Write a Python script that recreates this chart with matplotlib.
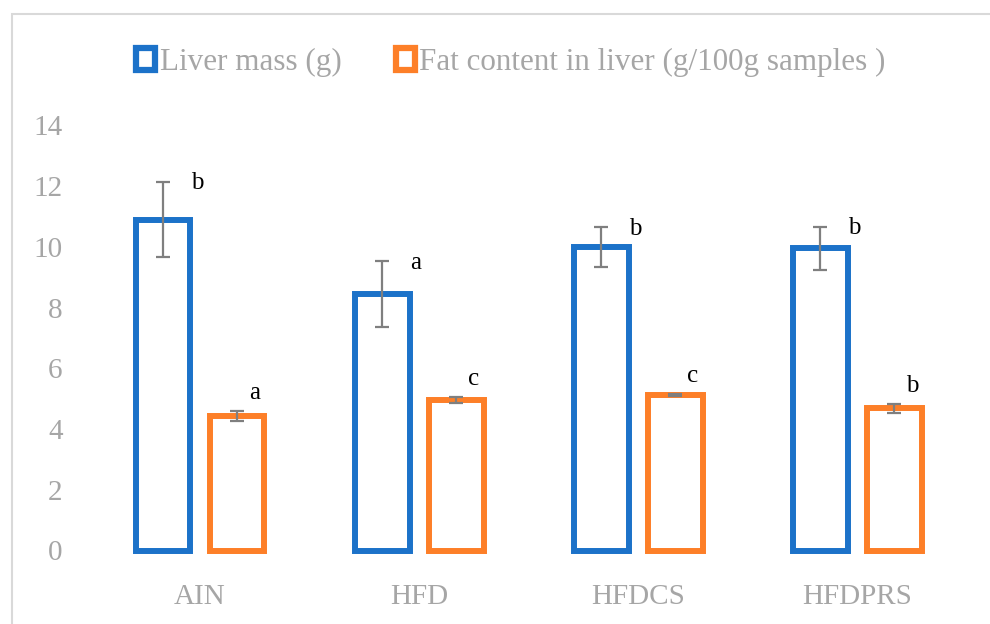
#!/usr/bin/env python3
"""Liver mass and liver fat content by diet group."""

import matplotlib

matplotlib.use("Agg")
import matplotlib.pyplot as plt
import numpy as np
from matplotlib.patches import Rectangle

groups = ["AIN", "HFD", "HFDCS", "HFDPRS"]
liver_mass = [10.90, 8.44, 9.99, 9.95]
liver_mass_err = [1.24, 1.09, 0.66, 0.71]
liver_fat = [4.43, 4.96, 5.12, 4.68]
liver_fat_err = [0.16, 0.10, 0.03, 0.14]
mass_letters = ["b", "a", "b", "b"]
fat_letters = ["a", "c", "c", "b"]

BLUE = "#1C72C9"
ORANGE = "#FD7F28"
GRAY_TXT = "#A6A6A6"
ERR = "#7F7F7F"

plt.rcParams["font.family"] = ["Liberation Serif", "DejaVu Serif"]

fig = plt.figure(figsize=(9.9, 6.24), dpi=100)
ax = fig.add_axes([90.5 / 990, 1 - 550.5 / 624, 876.5 / 990, 425 / 624])

x = np.arange(len(groups))
off = 0.169
width = 0.25
lw = 4.3

ax.bar(x - off, liver_mass, width, facecolor="white", edgecolor=BLUE, linewidth=lw, clip_on=False)
ax.bar(x + off, liver_fat, width, facecolor="white", edgecolor=ORANGE, linewidth=lw, clip_on=False)
err_kw = dict(fmt="none", ecolor=ERR, elinewidth=1.6, capsize=4.7, capthick=1.6, zorder=3)
ax.errorbar(x - off, liver_mass, yerr=liver_mass_err, **err_kw)
ax.errorbar(x + off, liver_fat, yerr=liver_fat_err, **err_kw)

for i in range(len(groups)):
    ax.text(x[i] - off + 0.155, liver_mass[i] + liver_mass_err[i] - 0.05, mass_letters[i],
            fontsize=18, ha="center", va="center", color="black")
    ax.text(x[i] + off + 0.08, liver_fat[i] + liver_fat_err[i] + 0.6, fat_letters[i],
            fontsize=18, ha="center", va="center", color="black")

ax.set_xlim(-0.5, len(groups) - 0.5)
ax.set_ylim(0, 14)
ax.set_yticks(range(0, 15, 2))
ax.set_xticks(x, groups)
ax.tick_params(axis="both", length=0, labelsize=21, colors=GRAY_TXT)
ax.tick_params(axis="x", pad=24)
ax.tick_params(axis="y", pad=20)
for s in ax.spines.values():
    s.set_visible(False)

handles = [
    Rectangle((0, 0), 1, 1, facecolor="white", edgecolor=BLUE, linewidth=4.5),
    Rectangle((0, 0), 1, 1, facecolor="white", edgecolor=ORANGE, linewidth=4.5),
]
leg = fig.legend(
    handles,
    ["Liver mass (g)", "Fat content in liver (g/100g samples )"],
    loc="center",
    bbox_to_anchor=(511 / 990, 1 - 62 / 624),
    ncol=2,
    frameon=False,
    fontsize=22.4,
    handlelength=0.6,
    handleheight=0.7,
    handletextpad=0.15,
    columnspacing=1.75,
)
for t in leg.get_texts():
    t.set_color(GRAY_TXT)

# light chart-area border (only top and left edges visible in the crop)
fig.add_artist(Rectangle((12 / 990, -0.1), 1.2, 1 - 14 / 624 + 0.1, transform=fig.transFigure,
                         facecolor="none", edgecolor="#D9D9D9", linewidth=1.5))

fig.savefig("out.png", dpi=100)
plt.close(fig)
